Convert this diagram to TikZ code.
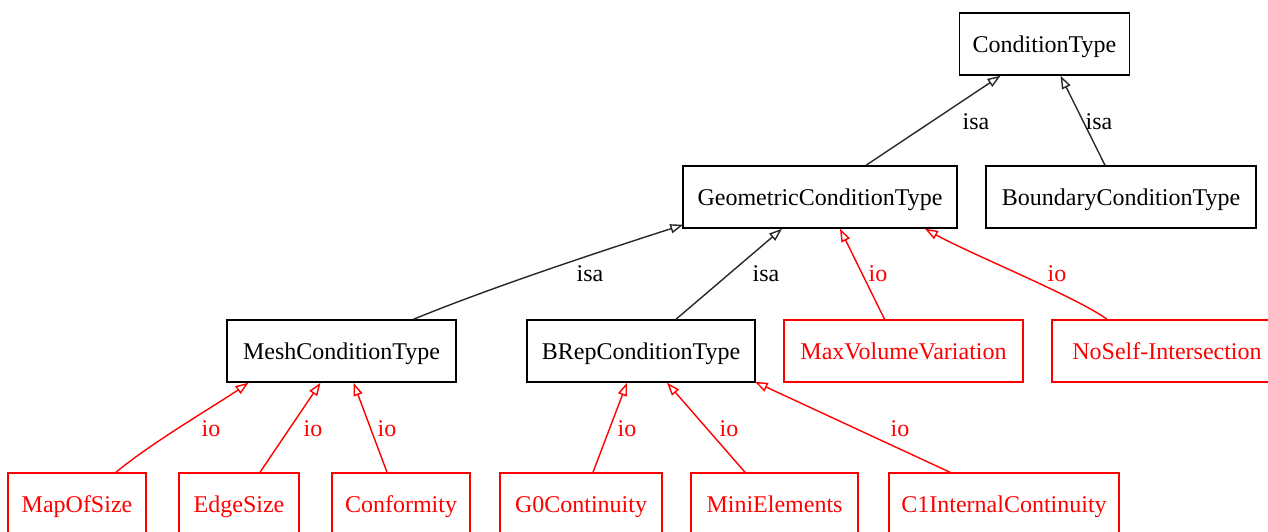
\documentclass[tikz,border=0pt]{standalone}
\usepackage{fontspec}
\setmainfont{Liberation Serif}
\usetikzlibrary{arrows.meta,calc}
\definecolor{edgegray}{RGB}{40,40,40}
\tikzset{
  box/.style={draw=black, line width=0.75pt, minimum height=31pt, inner sep=0pt, text height=9.8pt, text depth=1pt, font=\fontsize{12}{14}\selectfont, text=black},
  rbox/.style={box, draw=red, text=red},
  isaedge/.style={draw=edgegray, line width=0.7pt, -{Triangle[open,length=6.5pt,width=4.6pt]}},
  ioedge/.style={draw=red, line width=0.7pt, -{Triangle[open,length=6.5pt,width=4.6pt]}},
  isalbl/.style={font=\fontsize{12}{14}\selectfont, text=black, inner sep=0pt},
  iolbl/.style={font=\fontsize{12}{14}\selectfont, text=red, inner sep=0pt}
}
\begin{document}
\begin{tikzpicture}[x=0.5pt,y=-0.5pt]
\useasboundingbox (0,0) rectangle (1268,531);
\clip (0,0) rectangle (1268,531);
\fill[white] (0,0) rectangle (1268,531);
% nodes
\node[box, minimum width=85pt] (ct) at (1044.5,44) {ConditionType};
\node[box, minimum width=137pt] (geo) at (820,197) {GeometricConditionType};
\node[box, minimum width=135pt] (bnd) at (1121,197) {BoundaryConditionType};
\node[box, minimum width=114.5pt] (mesh) at (341.5,351) {MeshConditionType};
\node[box, minimum width=114pt] (brep) at (641,351) {BRepConditionType};
\node[rbox, minimum width=119.5pt] (maxv) at (903.5,351) {MaxVolumeVariation};
\node[rbox, minimum width=115pt] (noself) at (1167,351) {NoSelf-Intersection};
\node[rbox, minimum width=69pt] (mos) at (77,504) {MapOfSize};
\node[rbox, minimum width=60pt] (edge) at (239,504) {EdgeSize};
\node[rbox, minimum width=69pt] (conf) at (401,504) {Conformity};
\node[rbox, minimum width=81pt] (g0) at (581,504) {G0Continuity};
\node[rbox, minimum width=83.5pt] (mini) at (774.5,504) {MiniElements};
\node[rbox, minimum width=115pt] (c1) at (1004,504) {C1InternalContinuity};
% isa edges
\draw[isaedge] ($(geo.north)+(46,0)$) -- ($(ct.south)+(-44,0)$);
\draw[isaedge] ($(bnd.north)+(-16,0)$) -- ($(ct.south)+(16,0)$);
\draw[isaedge] ($(mesh.north)+(72,0)$) .. controls ($(mesh.north)+(150,-32)$) and ($(geo.south west)+(-80,22)$) .. ($(geo.south west)+(1,-4)$);
\draw[isaedge] ($(brep.north)+(35,0)$) -- ($(geo.south)+(-38,0)$);
% io edges
\draw[ioedge] ($(maxv.north)+(-19,0)$) -- ($(geo.south)+(20,0)$);
\draw[ioedge] ($(noself.north)+(-60,0)$) .. controls ($(noself.north)+(-90,-22)$) and ($(geo.south)+(150,25)$) .. ($(geo.south)+(105,0)$);
\draw[ioedge] ($(mos.north)+(39,0)$) .. controls ($(mos.north)+(75,-30)$) and ($(mesh.south)+(-125,22)$) .. ($(mesh.south)+(-93,0)$);
\draw[ioedge] ($(edge.north)+(21,0)$) -- ($(mesh.south)+(-21,0)$);
\draw[ioedge] ($(conf.north)+(-14,0)$) -- ($(mesh.south)+(12,0)$);
\draw[ioedge] ($(g0.north)+(12,0)$) -- ($(brep.south)+(-14,0)$);
\draw[ioedge] ($(mini.north)+(-29.5,0)$) -- ($(brep.south)+(26,0)$);
\draw[ioedge] ($(c1.north)+(-54,0)$) -- ($(brep.south east)+(-1,-1)$);
% labels
\node[isalbl] (l1) at (976,122) {isa};
\node[isalbl] (l2) at (1099,122) {isa};
\node[isalbl] (l3) at (590,274) {isa};
\node[isalbl] (l4) at (766,274) {isa};
\node[iolbl] (l5) at (878,274) {io};
\node[iolbl] (l6) at (1057,274) {io};
\node[iolbl] (l7) at (211,429) {io};
\node[iolbl] (l8) at (313,429) {io};
\node[iolbl] (l9) at (387,429) {io};
\node[iolbl] (l10) at (627,429) {io};
\node[iolbl] (l11) at (729,429) {io};
\node[iolbl] (l12) at (900,429) {io};
\end{tikzpicture}
\end{document}
